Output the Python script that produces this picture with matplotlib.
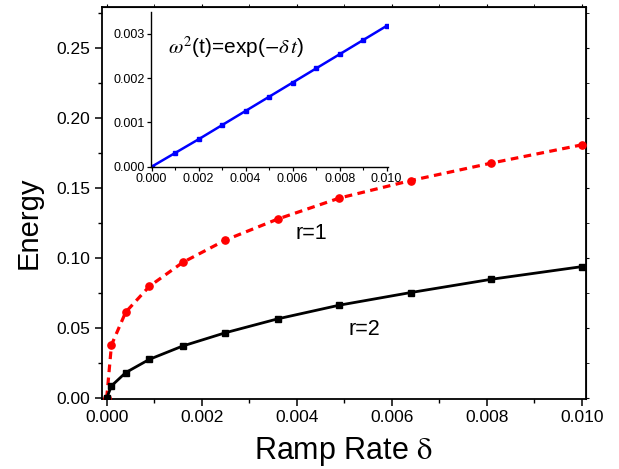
import matplotlib
matplotlib.use("Agg")
import matplotlib.pyplot as plt
from matplotlib.ticker import MultipleLocator, FormatStrFormatter

plt.rcParams["font.family"] = ["Liberation Sans", "DejaVu Sans"]
plt.rcParams["mathtext.fontset"] = "stix"

# ramp rates (delta) and energies for the two cases
delta = [0.0, 0.0001, 0.0004, 0.0009, 0.0016, 0.0025, 0.0036, 0.0049, 0.0064, 0.0081, 0.0100]
energy_r1 = [0.0, 0.038, 0.0615, 0.080, 0.097, 0.113, 0.128, 0.143, 0.1555, 0.168, 0.181]
energy_r2 = [0.0, 0.0088, 0.0183, 0.0278, 0.0373, 0.0468, 0.0567, 0.0665, 0.0755, 0.085, 0.094]

# inset: omega^2(t) ramp
delta_in = [0.0, 0.001, 0.002, 0.003, 0.004, 0.005, 0.006, 0.007, 0.008, 0.009, 0.010]
omega_in = [0.0, 0.00031, 0.00062, 0.00094, 0.00126, 0.00158, 0.00190, 0.00222, 0.00254, 0.00286, 0.00318]

fig = plt.figure(figsize=(6.19, 4.69), dpi=100)
ax = fig.add_axes([0.1643, 0.1497, 0.7824, 0.836])

ax.plot(delta, energy_r1, color="#ff0000", lw=2.3, ls=(0, (2.4, 1.7)),
        marker="o", ms=5.2, mec="#ff0000", mfc="#ff0000", zorder=3)
ax.plot(delta, energy_r2, color="black", lw=2.0, marker="s", ms=4.5, zorder=4)

ax.set_xlim(-0.000105, 0.01009)
ax.set_ylim(-0.0004, 0.2797)
ax.xaxis.set_major_locator(MultipleLocator(0.002))
ax.xaxis.set_minor_locator(MultipleLocator(0.001))
ax.yaxis.set_major_locator(MultipleLocator(0.05))
ax.yaxis.set_minor_locator(MultipleLocator(0.025))
ax.xaxis.set_major_formatter(FormatStrFormatter("%.3f"))
ax.yaxis.set_major_formatter(FormatStrFormatter("%.2f"))
ax.tick_params(which="major", direction="out", length=5, width=1.1, labelsize=12.5, pad=3)
ax.tick_params(which="minor", direction="out", length=3, width=1.0)
for s in ax.spines.values():
    s.set_linewidth(1.3)

# short mirrored ticks on top and right
top = ax.secondary_xaxis("top")
top.xaxis.set_major_locator(MultipleLocator(0.002))
top.xaxis.set_minor_locator(MultipleLocator(0.001))
top.tick_params(which="both", direction="out", length=2, labeltop=False)
right = ax.secondary_yaxis("right")
right.yaxis.set_major_locator(MultipleLocator(0.05))
right.yaxis.set_minor_locator(MultipleLocator(0.025))
right.tick_params(which="both", direction="out", length=2, labelright=False)

ax.set_xlabel(r"Ramp Rate $\mathrm{\delta}$", fontsize=22, labelpad=7)
ax.set_ylabel("Energy", fontsize=21)
ax.yaxis.set_label_coords(-0.123, 0.45)

ax.text(0.00397, 0.118, "r=1", fontsize=15.5, ha="left", va="center")
ax.text(0.00508, 0.049, "r=2", fontsize=15.5, ha="left", va="center")

# inset
ins = fig.add_axes([0.2435, 0.6446, 0.3838, 0.3304])
ins.plot(delta_in, omega_in, color="#0000ff", lw=1.8, marker="s", ms=3.3)
ins.set_xlim(-0.00004, 0.01007)
ins.set_ylim(0.0, 0.0035)
ins.xaxis.set_major_locator(MultipleLocator(0.002))
ins.xaxis.set_minor_locator(MultipleLocator(0.001))
ins.yaxis.set_major_locator(MultipleLocator(0.001))
ins.xaxis.set_major_formatter(FormatStrFormatter("%.3f"))
ins.yaxis.set_major_formatter(FormatStrFormatter("%.3f"))
ins.tick_params(which="major", direction="out", length=3, width=0.9, labelsize=9, pad=1.5)
ins.tick_params(which="minor", direction="out", length=2, width=0.8)
ins.spines["top"].set_visible(False)
ins.spines["right"].set_visible(False)
for s in ("left", "bottom"):
    ins.spines[s].set_linewidth(1.0)
ins.text(0.0007, 0.0027, r"$\omega^2$(t)=exp($-\delta\,t$)", fontsize=15, ha="left", va="center")

fig.savefig("out.png", dpi=100)
